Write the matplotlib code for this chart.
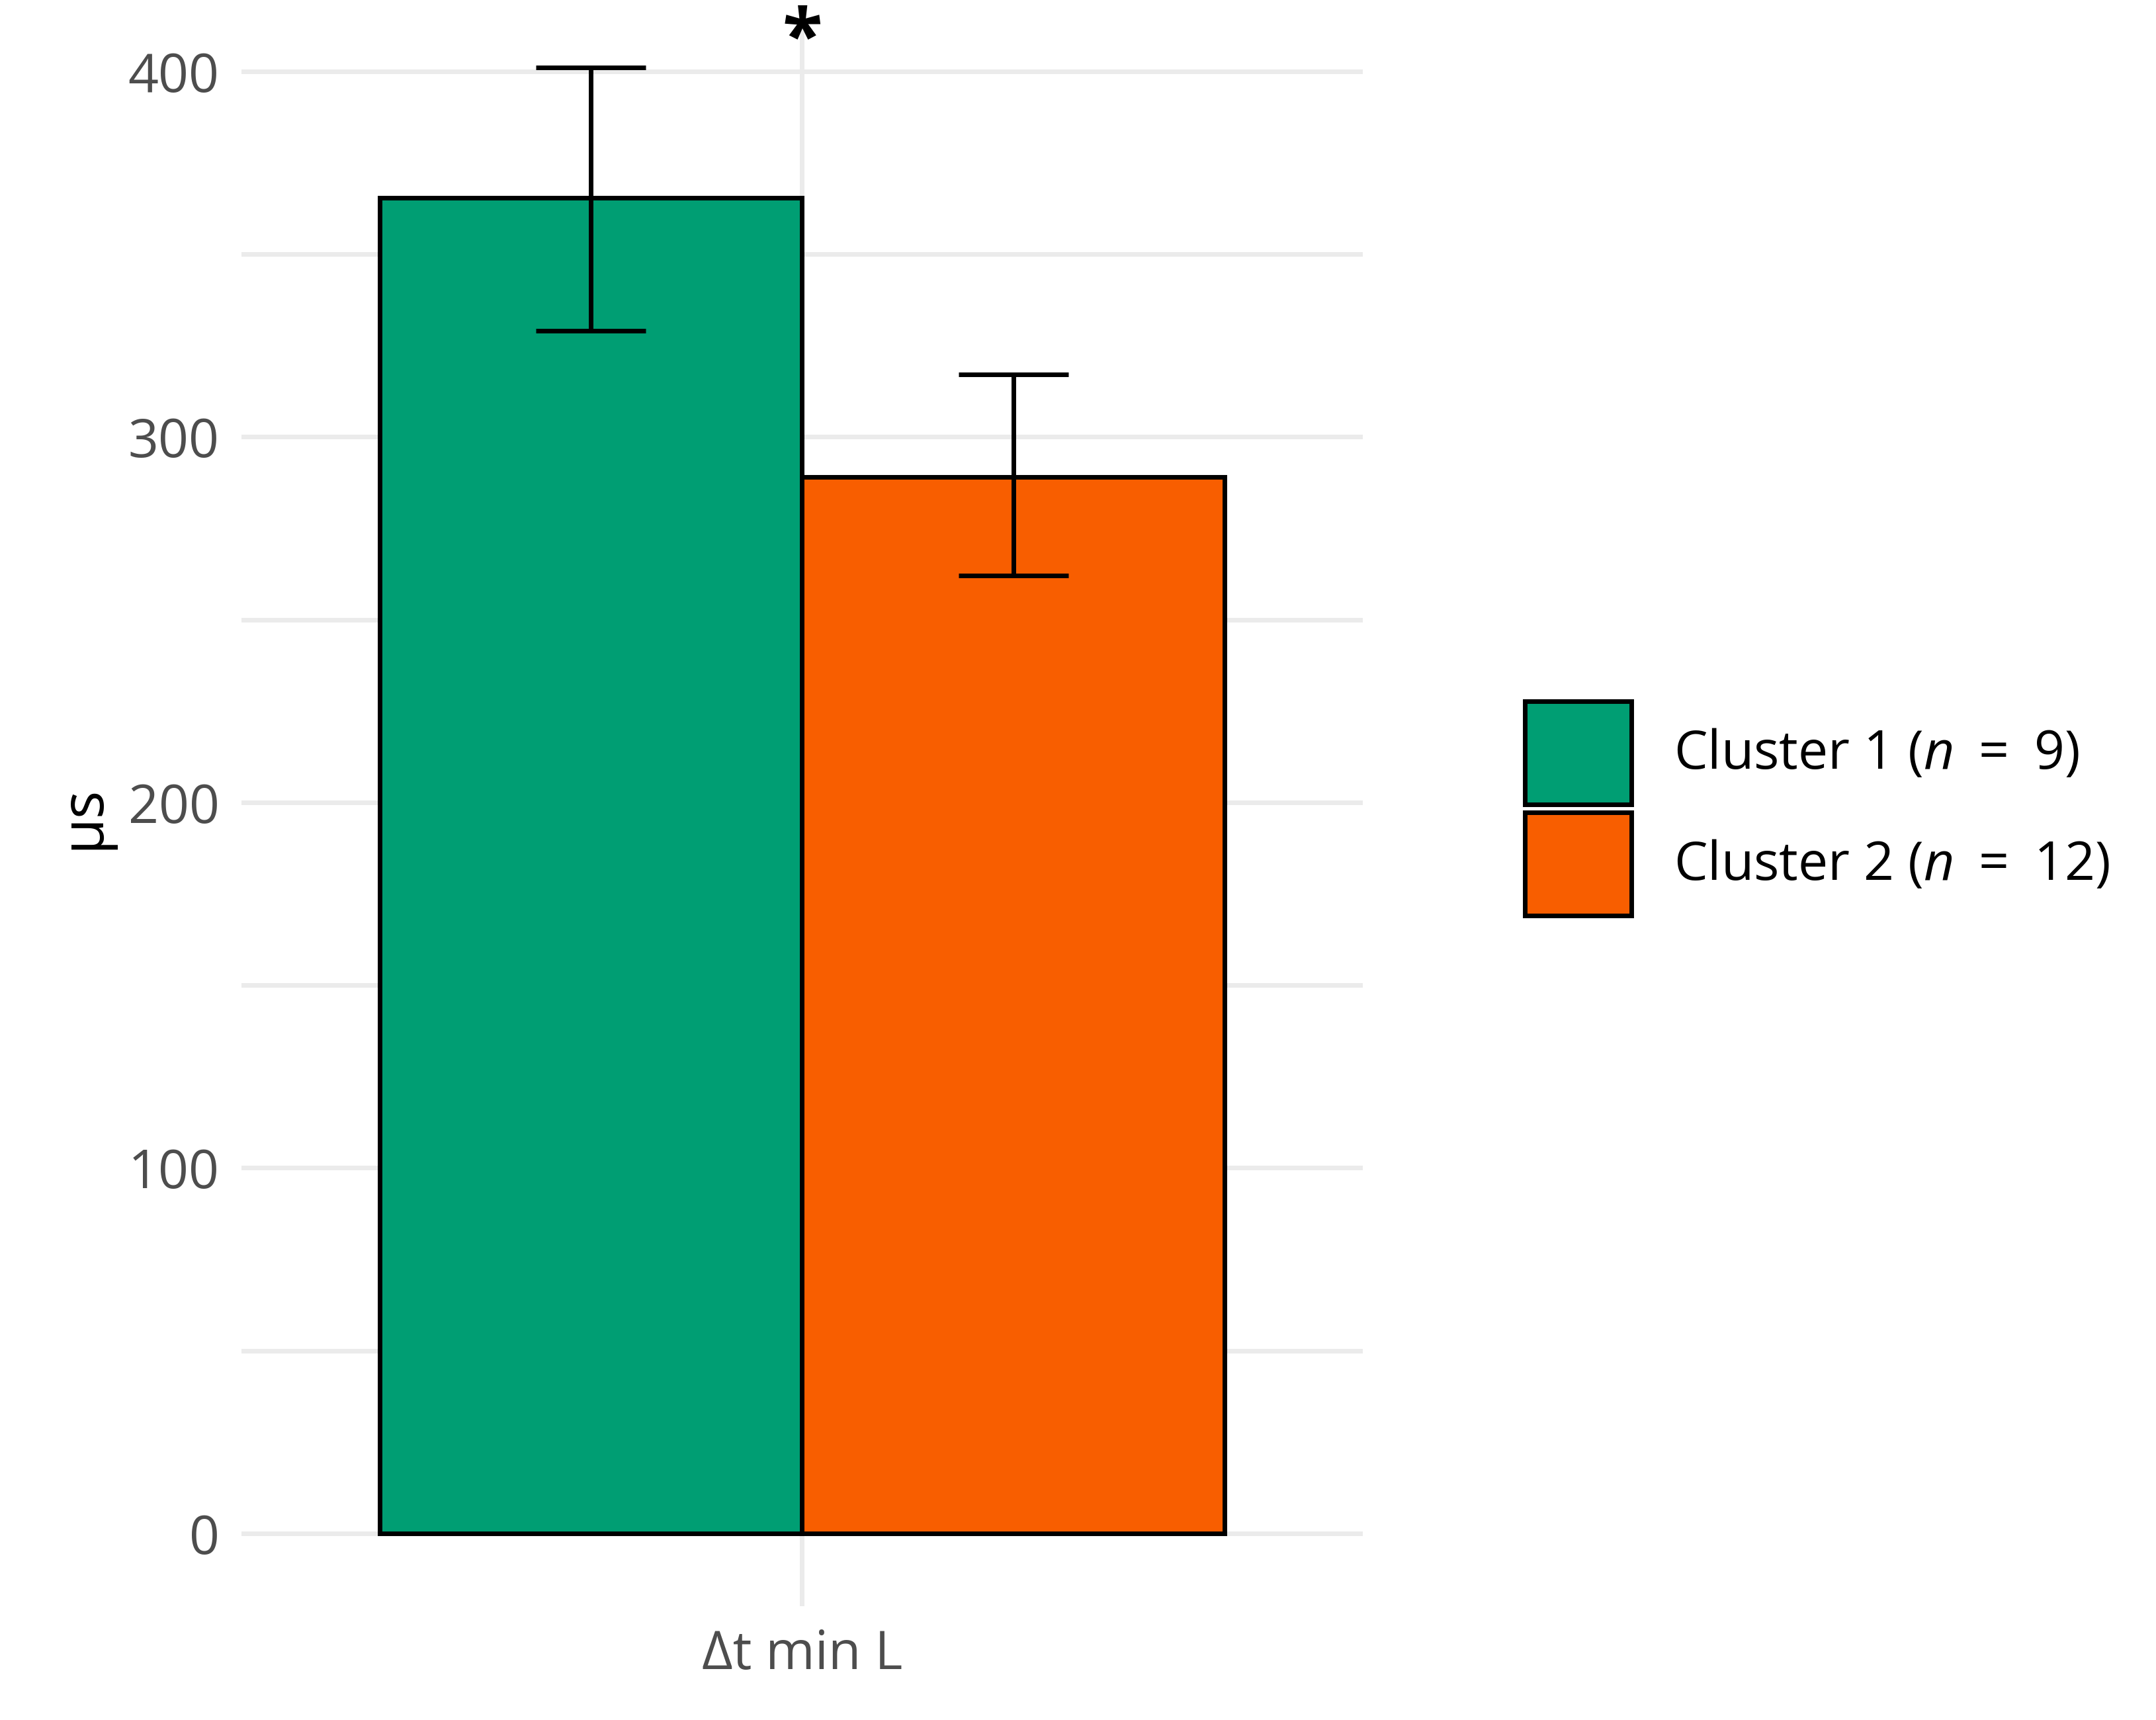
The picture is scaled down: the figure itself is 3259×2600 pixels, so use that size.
import matplotlib
matplotlib.use("Agg")
import matplotlib.pyplot as plt
from matplotlib.patches import Patch

plt.rcParams['font.family'] = ['Open Sans', 'DejaVu Sans']
plt.rcParams['mathtext.fontset'] = 'custom'
plt.rcParams['mathtext.it'] = 'Open Sans:italic'
plt.rcParams['mathtext.rm'] = 'Open Sans'

# data
groups = ['Cluster 1', 'Cluster 2']
ns = [9, 12]
means = [365.5, 289]
err_lo = [329, 262]
err_hi = [401, 317]
colors = ['#009E73', '#F85E00']
category = '\u0394t min L'

fig = plt.figure(figsize=(16.295, 13), dpi=200)
ax = fig.add_axes([0.112, 0.066, 0.52, 0.918])

offsets = [-0.226, 0.226]
for off, m, lo, hi, c in zip(offsets, means, err_lo, err_hi, colors):
    ax.bar(off, m, width=0.452, color=c, edgecolor='black', linewidth=2.5, zorder=3)
    ax.errorbar(off, m, yerr=[[m - lo], [hi - m]], color='black', capsize=30,
                elinewidth=2.5, capthick=2.5, zorder=4)

ax.text(0, 398, '*', ha='center', va='bottom', fontsize=40, fontweight='bold')

ax.set_xlim(-0.6, 0.6)
ax.set_ylim(-20, 412)
ax.set_yticks([0, 100, 200, 300, 400])
ax.set_yticks([50, 150, 250, 350], minor=True)
ax.set_xticks([0])
ax.set_xticklabels([category])
ax.grid(True, which='both', axis='both', color='#EBEBEB', linewidth=2.5, zorder=0)
ax.tick_params(axis='both', which='both', length=0, labelsize=29, labelcolor='#4D4D4D', pad=12)
for s in ax.spines.values():
    s.set_visible(False)
ax.set_ylabel('µs', fontsize=32, labelpad=8)

handles = [Patch(facecolor=c, edgecolor='black', linewidth=2.5) for c in colors]
labels = [f'{g} $\\it{{(n\\ =\\ {n})}}$' for g, n in zip(groups, ns)]
fig.legend(handles, labels, loc='center left', bbox_to_anchor=(0.685, 0.53),
           frameon=False, fontsize=29, handlelength=2.0, handleheight=2.6,
           handletextpad=0.8, labelspacing=0.15)

fig.savefig('out.png', dpi=200)
